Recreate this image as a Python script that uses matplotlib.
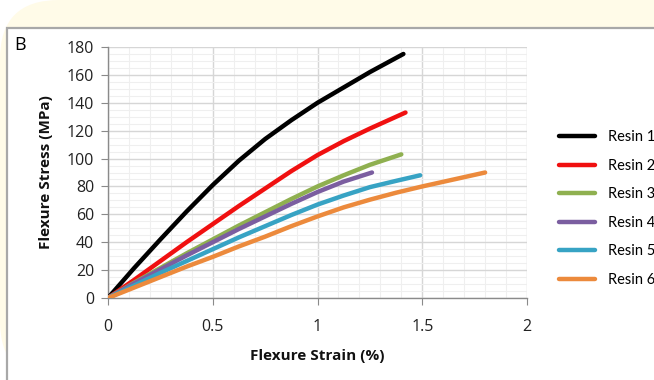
import numpy as np
import matplotlib.pyplot as plt
from matplotlib.patches import FancyBboxPatch, Rectangle
from matplotlib.ticker import MultipleLocator

# strain (%) / stress (MPa)
x1 = [0, 0.125, 0.25, 0.375, 0.5, 0.625, 0.75, 0.875, 1.0, 1.125, 1.25, 1.41]
y1 = [0, 21.5, 42, 62, 81, 98.5, 114, 127.5, 140, 151, 162, 175]
x2 = [0, 0.125, 0.25, 0.375, 0.5, 0.625, 0.75, 0.875, 1.0, 1.125, 1.25, 1.42]
y2 = [0, 13, 26.5, 40, 53, 66, 78.5, 91, 102.5, 112.5, 121.5, 133]
x3 = [0, 0.125, 0.25, 0.375, 0.5, 0.625, 0.75, 0.875, 1.0, 1.125, 1.25, 1.40]
y3 = [0, 11, 21.5, 32, 42, 52, 61.5, 71, 80, 88, 95.5, 103]
x4 = [0, 0.125, 0.25, 0.375, 0.5, 0.625, 0.75, 0.875, 1.0, 1.125, 1.26]
y4 = [0, 10.5, 20.5, 30.5, 40, 49.5, 58.5, 67.5, 76, 83.5, 90]
x5 = [0, 0.125, 0.25, 0.375, 0.5, 0.625, 0.75, 0.875, 1.0, 1.125, 1.25, 1.375, 1.49]
y5 = [0, 9, 18, 26.5, 35, 43.5, 51.5, 59.5, 67, 73.5, 79.5, 84, 88]
x6 = [0, 0.125, 0.25, 0.375, 0.5, 0.625, 0.75, 0.875, 1.0, 1.125, 1.25, 1.375, 1.5, 1.65, 1.8]
y6 = [0, 7.5, 15, 22.5, 29.5, 37, 44, 51.5, 58.5, 65, 70.5, 75.5, 80, 85, 90]

names = ['Resin 1', 'Resin 2', 'Resin 3', 'Resin 4', 'Resin 5', 'Resin 6']
colors = ['#000000', '#f01010', '#8fb050', '#7b5ea0', '#37a3c4', '#ec8a3c']
xs = [x1, x2, x3, x4, x5, x6]
ys = [y1, y2, y3, y4, y5, y6]

fig = plt.figure(figsize=(6.54, 3.80), dpi=100)
fig.patch.set_facecolor('white')

# cream page behind, white panel with grey border
fig.patches.append(FancyBboxPatch((0.0, 0.0), 1.2, 1.0, boxstyle='round,pad=0,rounding_size=0.09',
                                  transform=fig.transFigure, facecolor='#fffbe8', edgecolor='none',
                                  mutation_aspect=654/380, zorder=-3))
fig.patches.append(Rectangle((7/654, -0.1), 1.1, (380-28)/380 + 0.1, transform=fig.transFigure,
                             facecolor='white', edgecolor='#a8a8a8', lw=1.6, zorder=-2))

ax = fig.add_axes([108/654, 82/380, 419/654, 251/380])
ax.set_facecolor('white')
for x, y, c, n in zip(xs, ys, colors, names):
    ax.plot(x, y, color=c, lw=3.2, label=n, solid_capstyle='round', solid_joinstyle='round', zorder=3)

ax.set_xlim(0, 2)
ax.set_ylim(0, 180)
ax.xaxis.set_major_locator(MultipleLocator(0.5))
ax.xaxis.set_minor_locator(MultipleLocator(0.1))
ax.yaxis.set_major_locator(MultipleLocator(20))
ax.yaxis.set_minor_locator(MultipleLocator(5))
ax.set_xticks([0, 0.5, 1, 1.5, 2])
ax.set_xticklabels(['0', '0.5', '1', '1.5', '2'])
ax.grid(which='major', color='#d6d6d6', lw=1.0)
ax.grid(which='minor', color='#efefef', lw=0.8)
ax.set_axisbelow(True)
for s in ['top', 'right']:
    ax.spines[s].set_visible(False)
for s in ['left', 'bottom']:
    ax.spines[s].set_color('#8a8a8a')
    ax.spines[s].set_linewidth(1.0)
ax.tick_params(which='major', direction='out', length=5, color='#8a8a8a', labelsize=11.5,
               labelcolor='#222222')
ax.tick_params(axis='x', pad=10)
ax.tick_params(axis='y', pad=5)
ax.tick_params(which='minor', length=0)
for t in ax.get_xticklabels() + ax.get_yticklabels():
    t.set_family('Open Sans')

ax.set_xlabel('Flexure Strain (%)', fontsize=11, fontweight='bold', family='Open Sans', labelpad=10,
              color='#111111')
ax.set_ylabel('Flexure Stress (MPa)', fontsize=11, fontweight='bold', family='Open Sans', labelpad=10,
              color='#111111')

fig.text(14/654, 1 - 45/380, 'B', fontsize=13, family='Open Sans', va='center', ha='left')

fig.legend(loc='upper left', bbox_to_anchor=(546/654, 1 - 117/380), frameon=False,
           prop={'family': 'Lato', 'size': 10.5}, handlelength=2.45, handletextpad=0.9,
           labelspacing=1.0)

fig.savefig('out.png', dpi=100)
